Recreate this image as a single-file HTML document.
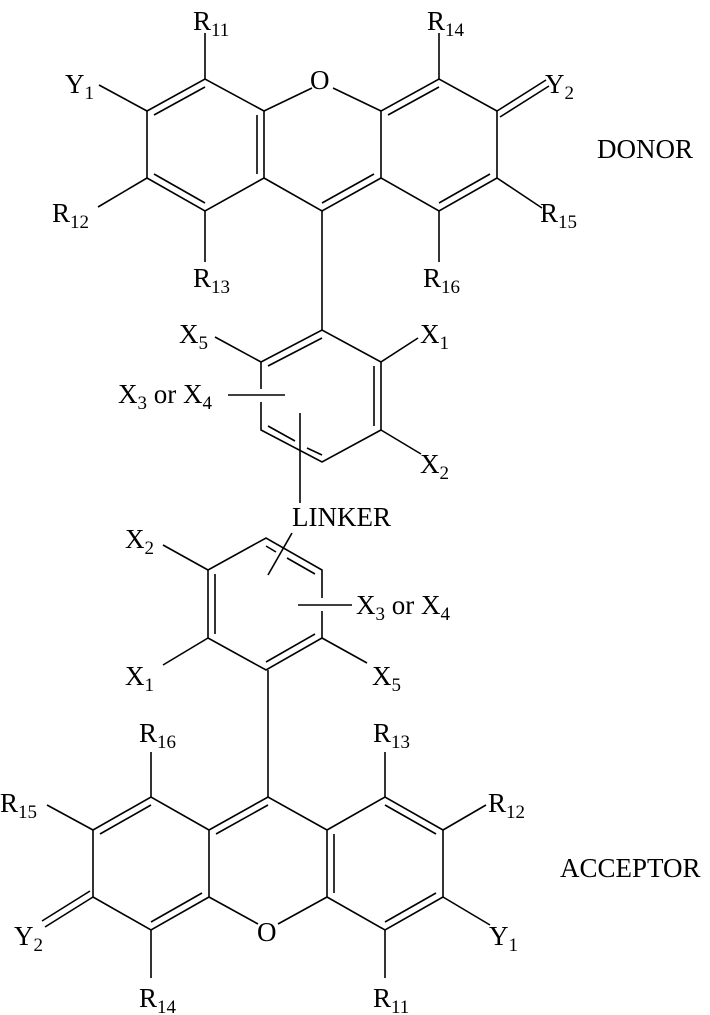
<!DOCTYPE html>
<html><head><meta charset="utf-8"><style>
html,body{margin:0;padding:0;background:#fff;}
svg{display:block;}
text{font-family:"Liberation Serif",serif;font-size:27px;fill:#000;}
.s{font-size:19px;}
</style></head><body>
<svg width="710" height="1015" viewBox="0 0 710 1015" xmlns="http://www.w3.org/2000/svg">
<g stroke="#000" stroke-width="1.6" fill="none" stroke-linecap="butt">
<polyline points="264,111 205,79 147,111 147,178 205,211 264,178 264,111"/>
<line x1="154" y1="115" x2="205" y2="87"/>
<line x1="154" y1="174" x2="205" y2="203"/>
<line x1="257" y1="115" x2="257" y2="174"/>
<line x1="264" y1="111" x2="312" y2="88"/>
<line x1="333" y1="88" x2="381" y2="111"/>
<polyline points="264,178 322,211 381,178"/>
<line x1="322" y1="203" x2="374" y2="174"/>
<polyline points="381,111 439,79 497,111 497,178 439,211 381,178 381,111"/>
<line x1="388" y1="115" x2="439" y2="87"/>
<line x1="439" y1="203" x2="490" y2="174"/>
<line x1="205" y1="79" x2="205" y2="33"/>
<line x1="147" y1="111" x2="99" y2="85"/>
<line x1="147" y1="178" x2="98" y2="207"/>
<line x1="205" y1="211" x2="205" y2="262"/>
<line x1="439" y1="79" x2="439" y2="33"/>
<line x1="497" y1="111" x2="546" y2="80"/>
<line x1="500" y1="117" x2="549" y2="86"/>
<line x1="497" y1="178" x2="542" y2="208"/>
<line x1="439" y1="211" x2="439" y2="262"/>
<line x1="322" y1="211" x2="322" y2="330"/>
<polyline points="261,389 261,362 322,330 381,362 381,430 322,462 261,430 261,402"/>
<line x1="268" y1="366" x2="322" y2="338"/>
<line x1="374" y1="366" x2="374" y2="426"/>
<line x1="268" y1="426" x2="295" y2="441"/>
<line x1="307" y1="448" x2="322" y2="455"/>
<line x1="228" y1="395" x2="285" y2="395"/>
<line x1="261" y1="362" x2="215" y2="337"/>
<line x1="381" y1="362" x2="418" y2="338"/>
<line x1="381" y1="430" x2="421" y2="454"/>
<line x1="300" y1="413" x2="300" y2="503"/>
<polyline points="322,598 322,570 266,538 208,570 208,638 266,670 322,638 322,611"/>
<line x1="215" y1="574" x2="215" y2="634"/>
<line x1="266" y1="546" x2="276" y2="552"/>
<line x1="287" y1="558" x2="315" y2="574"/>
<line x1="315" y1="634" x2="266" y2="662"/>
<line x1="292" y1="533" x2="268" y2="575"/>
<line x1="298" y1="605" x2="352" y2="605"/>
<line x1="208" y1="570" x2="163" y2="545"/>
<line x1="208" y1="638" x2="163" y2="665"/>
<line x1="322" y1="638" x2="367" y2="663"/>
<line x1="268" y1="670" x2="268" y2="797"/>
<polyline points="209,830 151,797 93,830 93,897 151,930 209,897 209,830"/>
<line x1="151" y1="805" x2="100" y2="834"/>
<line x1="151" y1="922" x2="202" y2="893"/>
<polyline points="209,830 268,797 327,830"/>
<line x1="216" y1="834" x2="268" y2="805"/>
<line x1="209" y1="897" x2="258" y2="924"/>
<line x1="278" y1="924" x2="327" y2="897"/>
<polyline points="327,830 385,797 443,830 443,897 385,930 327,897 327,830"/>
<line x1="334" y1="834" x2="334" y2="893"/>
<line x1="385" y1="805" x2="436" y2="834"/>
<line x1="436" y1="893" x2="385" y2="922"/>
<line x1="151" y1="797" x2="151" y2="752"/>
<line x1="93" y1="830" x2="47" y2="805"/>
<line x1="93" y1="897" x2="45" y2="927"/>
<line x1="90" y1="891" x2="42" y2="921"/>
<line x1="151" y1="930" x2="151" y2="978"/>
<line x1="385" y1="797" x2="385" y2="752"/>
<line x1="443" y1="830" x2="486" y2="805"/>
<line x1="443" y1="897" x2="490" y2="925"/>
<line x1="385" y1="930" x2="385" y2="978"/>
</g>
<text x="193" y="30">R<tspan class="s" dy="6">11</tspan></text>
<text x="427" y="30">R<tspan class="s" dy="6">14</tspan></text>
<text x="65" y="93">Y<tspan class="s" dy="6">1</tspan></text>
<text x="545" y="93">Y<tspan class="s" dy="6">2</tspan></text>
<text x="310" y="89">O</text>
<text x="52" y="222">R<tspan class="s" dy="6">12</tspan></text>
<text x="540" y="222">R<tspan class="s" dy="6">15</tspan></text>
<text x="193" y="287">R<tspan class="s" dy="6">13</tspan></text>
<text x="423" y="287">R<tspan class="s" dy="6">16</tspan></text>
<text x="597" y="158">DONOR</text>
<text x="179" y="343">X<tspan class="s" dy="6">5</tspan></text>
<text x="420" y="343">X<tspan class="s" dy="6">1</tspan></text>
<text x="118" y="403">X<tspan class="s" dy="6">3</tspan><tspan dy="-6"> or X</tspan><tspan class="s" dy="6">4</tspan></text>
<text x="420" y="473">X<tspan class="s" dy="6">2</tspan></text>
<text x="292" y="526">LINKER</text>
<text x="125" y="548">X<tspan class="s" dy="6">2</tspan></text>
<text x="356" y="614">X<tspan class="s" dy="6">3</tspan><tspan dy="-6"> or X</tspan><tspan class="s" dy="6">4</tspan></text>
<text x="125" y="685">X<tspan class="s" dy="6">1</tspan></text>
<text x="372" y="685">X<tspan class="s" dy="6">5</tspan></text>
<text x="139" y="742">R<tspan class="s" dy="6">16</tspan></text>
<text x="373" y="742">R<tspan class="s" dy="6">13</tspan></text>
<text x="0" y="812">R<tspan class="s" dy="6">15</tspan></text>
<text x="488" y="812">R<tspan class="s" dy="6">12</tspan></text>
<text x="560" y="877">ACCEPTOR</text>
<text x="14" y="945">Y<tspan class="s" dy="6">2</tspan></text>
<text x="489" y="945">Y<tspan class="s" dy="6">1</tspan></text>
<text x="257" y="941">O</text>
<text x="139" y="1007">R<tspan class="s" dy="6">14</tspan></text>
<text x="373" y="1007">R<tspan class="s" dy="6">11</tspan></text>
</svg>
</body></html>
